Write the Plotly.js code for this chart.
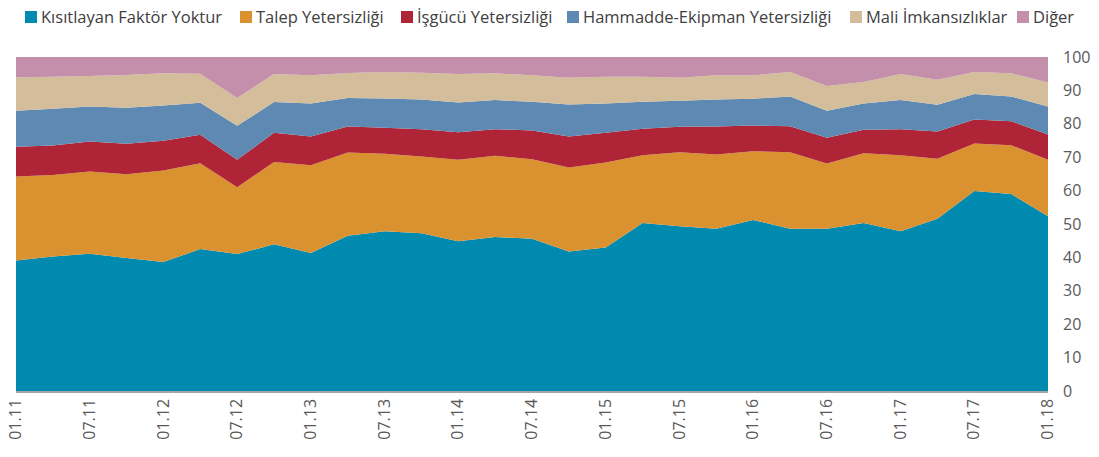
<!DOCTYPE html>
<html>
<head>
<meta charset="utf-8">
<script src="https://cdn.plot.ly/plotly-3.0.1.min.js"></script>
<style>
html,body{margin:0;padding:0;background:#ffffff;}
#chart{width:1099px;height:457px;}
</style>
</head>
<body>
<div id="chart"></div>
<script>
// ---- data (percent shares, quarterly) ----
const periods = ['01.11','04.11','07.11','10.11','01.12','04.12','07.12','10.12',
  '01.13','04.13','07.13','10.13','01.14','04.14','07.14','10.14',
  '01.15','04.15','07.15','10.15','01.16','04.16','07.16','10.16',
  '01.17','04.17','07.17','10.17','01.18'];
const tickLabels = ['01.11','07.11','01.12','07.12','01.13','07.13','01.14','07.14',
  '01.15','07.15','01.16','07.16','01.17','07.17','01.18'];
const seriesNames = ['Kısıtlayan Faktör Yoktur','Talep Yetersizliği','İşgücü Yetersizliği',
  'Hammadde-Ekipman Yetersizliği','Mali İmkansızlıklar','Diğer'];

const kisitlayanFaktorYoktur = [39.1,40.3,41.1,39.8,38.6,42.5,41.0,43.9,41.3,46.5,47.8,47.2,44.8,46.1,45.6,41.8,43.0,50.3,49.3,48.6,51.2,48.6,48.6,50.3,47.8,51.6,59.9,59.0,52.3];
const talepYetersizligi      = [25.1,24.4,24.6,25.1,27.4,25.7,20.0,24.7,26.3,24.9,23.2,23.0,24.4,24.3,23.8,25.1,25.4,20.3,22.2,22.2,20.6,22.9,19.5,20.9,22.8,17.9,14.2,14.6,16.9];
const isgucuYetersizligi     = [8.9,8.8,9.0,9.1,8.9,8.5,8.2,8.7,8.6,7.8,7.8,8.2,8.3,8.0,8.6,9.3,8.9,7.9,7.6,8.4,7.7,7.8,7.7,7.0,7.8,8.2,7.2,7.2,7.6];
const hammaddeEkipman        = [10.8,11.0,10.5,10.8,10.6,9.6,10.2,9.2,9.9,8.5,8.8,8.9,8.9,8.7,8.6,9.6,8.8,8.1,7.8,8.1,8.0,8.9,8.1,7.9,8.7,8.0,7.6,7.4,8.4];
const maliImkansizliklar     = [10.0,9.6,9.1,9.8,9.6,8.7,8.3,8.4,8.4,7.5,7.9,8.0,8.5,8.0,7.9,8.0,8.0,7.5,6.9,7.2,7.0,7.3,7.4,6.4,7.8,7.5,6.6,6.9,7.2];
const diger                  = [6.1,5.9,5.7,5.4,4.9,5.0,12.3,5.1,5.5,4.8,4.5,4.7,5.1,4.9,5.5,6.2,5.9,5.9,6.2,5.5,5.5,4.5,8.7,7.5,5.1,6.8,4.5,4.9,7.6];
const minorTickPositions     = [1.5,4.5,7.5,10.5,13.5,16.5,19.5,22.5,25.5,27];

// ---- styles ----
const colors = ['#008aaf','#da9130','#af2537','#5d89b2','#d4bd9a','#c48fab'];
const allSeries = [kisitlayanFaktorYoktur,talepYetersizligi,isgucuYetersizligi,hammaddeEkipman,maliImkansizliklar,diger];

const W = 1099, H = 457;
const M = {l:16, r:51, t:57, b:66};
const PW = W - M.l - M.r, PH = H - M.t - M.b;
const px2x = p => (p - M.l) / PW;
const px2y = p => (H - M.b - p) / PH;

const traces = allSeries.map((vals, i) => ({
  type: 'scatter',
  x: periods,
  y: vals,
  name: seriesNames[i],
  stackgroup: 'one',
  mode: 'none',
  fillcolor: colors[i],
  line: {width: 0},
  showlegend: false,
  hoverinfo: 'x+y+name'
}));

// custom legend (square markers + labels), laid out like the reference
const legendSquareLeft = [25, 240, 401, 567, 850, 1017];
const shapes = [];
const annotations = [];
seriesNames.forEach((n, i) => {
  const x0 = legendSquareLeft[i];
  shapes.push({type:'rect', xref:'paper', yref:'paper',
    x0: px2x(x0), x1: px2x(x0 + 12), y0: px2y(23), y1: px2y(11),
    fillcolor: colors[i], line: {width: 0}});
  annotations.push({xref:'paper', yref:'paper', x: px2x(x0 + 14), y: px2y(17),
    xanchor:'left', yanchor:'middle', showarrow:false, text: n,
    font:{family:'Open Sans, sans-serif', size:16.5, color:'#404040'}});
});

const layout = {
  width: W, height: H,
  margin: M,
  paper_bgcolor: '#ffffff',
  plot_bgcolor: '#ffffff',
  showlegend: false,
  xaxis: {
    type: 'category',
    categoryorder: 'array',
    categoryarray: periods,
    range: [0, periods.length - 1],
    tickmode: 'array',
    tickvals: tickLabels,
    ticktext: tickLabels,
    tickangle: -90,
    ticks: '',
    showgrid: false,
    zeroline: false,
    showline: true,
    linecolor: '#a6a6a6',
    linewidth: 1.5,
    tickfont: {family:'Open Sans, sans-serif', size:16, color:'#595959'},
    fixedrange: true
  },
  xaxis2: {
    overlaying: 'x',
    anchor: 'y',
    side: 'bottom',
    type: 'linear',
    range: [0, periods.length - 1],
    tickmode: 'array',
    tickvals: minorTickPositions,
    showticklabels: false,
    ticks: 'outside',
    ticklen: 5,
    tickwidth: 1.5,
    tickcolor: '#a6a6a6',
    showgrid: false,
    zeroline: false,
    showline: false
  },
  yaxis: {
    side: 'right',
    range: [0, 100],
    tickmode: 'linear',
    tick0: 0,
    dtick: 10,
    ticks: '',
    ticklabelstandoff: 14,
    showgrid: false,
    zeroline: false,
    showline: false,
    tickfont: {family:'Open Sans, sans-serif', size:16, color:'#595959'},
    fixedrange: true
  },
  shapes: shapes,
  annotations: annotations
};

Plotly.newPlot('chart', traces, layout, {displayModeBar:false, staticPlot:true});
</script>
</body>
</html>
